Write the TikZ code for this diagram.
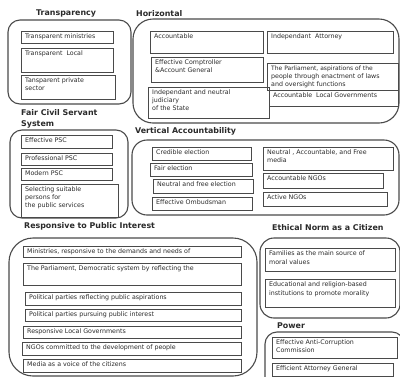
\documentclass[tikz,border=0pt]{standalone}
\usepackage{fontspec}
\setmainfont{DejaVu Sans}
\definecolor{lc}{HTML}{4A4A4A}
\definecolor{tc}{HTML}{2A2A2A}
\tikzset{
  ibox/.style={draw=lc, line width=0.8pt, anchor=north west, inner sep=0pt, outer sep=0pt},
  itxt/.style={anchor=north west, inner sep=0pt, align=left, text=tc, font=\fontsize{6.3}{8.2}\selectfont},
  gbox/.style={draw=lc, line width=1.1pt, anchor=north west, inner sep=0pt, outer sep=0pt},
  ttl/.style={anchor=west, inner sep=0pt, text=tc, align=left, font=\bfseries\fontsize{7.9}{10.5}\selectfont}
}
\newcommand\ibx[6]{%
  \pgfmathsetmacro\bw{#4-#2}\pgfmathsetmacro\bh{#5-#3}%
  \node[ibox, minimum width=\bw pt, minimum height=\bh pt] (#1) at (#2,#3) {};
  \node[itxt] (#1t) at ([shift={(4,2.4)}]#1.north west) {#6};}
\newcommand\grp[6]{%
  \pgfmathsetmacro\bw{#4-#2}\pgfmathsetmacro\bh{#5-#3}%
  \node[gbox, rounded corners=#6pt, minimum width=\bw pt, minimum height=\bh pt] (#1) at (#2,#3) {};}
\begin{document}
\begin{tikzpicture}[x=1pt,y=-1pt]
\useasboundingbox[fill=white] (0,0) rectangle (400,376);
% ---------- Transparency
\node[ttl] (tT) at (36,13) {Transparency};
\grp{gT}{8}{20}{131}{104}{12}
\ibx{t1}{21}{31}{113}{43}{Transparent ministries}
\ibx{t2}{21}{48}{113}{72}{Transparent\ \ Local}
\ibx{t3}{21}{75}{115}{99}{Tansparent private\\sector}
% ---------- Horizontal
\node[ttl] (tH) at (136,14) {Horizontal};
\grp{gH}{133}{19}{399}{123}{20}
\ibx{h1}{150}{31}{263}{53}{Accountable}
\ibx{h2}{267}{31}{393}{53}{Independant\ \ Attorney}
\ibx{h3}{151}{57}{263}{82}{Effective Comptroller\\\&Account General}
\ibx{h4}{267}{63}{398}{90}{\fontsize{6}{7.6}\selectfont The Parliament, aspirations of the\\people through enactment of laws\\and oversight functions}
\ibx{h5}{148}{87}{269}{118}{Independant and neutral\\judiciary\\of the State}
\ibx{h6}{269}{90}{398}{106}{Accountable\ \ Local Governments}
% ---------- Fair Civil Servant System
\node[ttl] (tF) at (21,119) {Fair Civil Servant\\System};
\grp{gF}{10}{130}{128}{218}{12}
\ibx{f1}{21}{135}{112}{148}{Effective PSC}
\ibx{f2}{21}{153}{112}{165}{Professional PSC}
\ibx{f3}{21}{168}{112}{180}{Modern PSC}
\ibx{f4}{21}{184}{118}{217}{Selecting suitable\\persons for\\the public services}
% ---------- Vertical Accountability
\node[ttl] (tV) at (135,131) {Vertical Accountability};
\grp{gV}{132}{140}{399}{215}{15}
\ibx{v1}{152}{147}{251}{160}{Credible election}
\ibx{v2}{150}{163}{252}{176}{Fair election}
\ibx{v3}{153}{179}{253}{193}{Neutral and free election}
\ibx{v4}{152}{197}{252}{210}{Effective Ombudsman}
\ibx{v5}{263}{147}{393}{170}{Neutral , Accountable, and Free\\media}
\ibx{v6}{263}{173}{383}{188}{Accountable NGOs}
\ibx{v7}{263}{192}{387}{206}{Active NGOs}
% ---------- Responsive to Public Interest
\node[ttl] (tR) at (24,226) {Responsive to Public Interest};
\grp{gR}{9}{238}{257}{376}{24}
\ibx{r1}{23}{246}{241}{257}{Ministries, responsive to the demands and needs of}
\ibx{r2}{23}{263}{241}{285}{The Parliament, Democratic system by reflecting the}
\ibx{r3}{25}{292}{241}{305}{Political parties reflecting public aspirations}
\ibx{r4}{25}{309}{241}{321}{Political parties pursuing public interest}
\ibx{r5}{23}{326}{241}{338}{Responsive Local Governments}
\ibx{r6}{22}{342}{241}{355}{NGOs committed to the development of people}
\ibx{r7}{23}{359}{241}{372}{Media as a voice of the citizens}
% ---------- Ethical Norm as a Citizen
\node[ttl] (tE) at (272,228) {Ethical Norm as a Citizen};
\grp{gE}{260}{238}{400}{318}{14}
\ibx{e1}{265}{248}{395}{271}{Families as the main source of\\[1pt]moral values}
\ibx{e2}{265}{279}{395}{307}{Educational and religion-based\\[1pt]institutions to promote morality}
% ---------- Power
\node[ttl] (tP) at (277,326) {Power};
\grp{gP}{265}{332}{404}{392}{12}
\ibx{p1}{272}{337}{397}{358}{Effective Anti-Corruption\\Commission}
\ibx{p2}{272}{363}{393}{376}{Efficient Attorney General}
\end{tikzpicture}
\end{document}
